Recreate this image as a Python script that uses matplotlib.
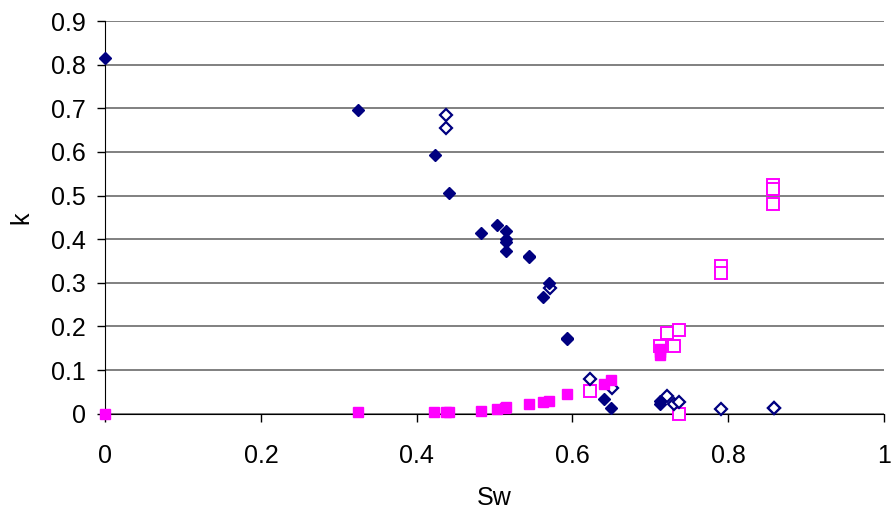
import numpy as np
import matplotlib
matplotlib.use("Agg")
import matplotlib.pyplot as plt

plt.rcParams['font.family'] = ['Liberation Sans', 'DejaVu Sans']

# filled navy diamonds
kro_sw = [0.0, 0.325, 0.423, 0.442, 0.482, 0.503, 0.515, 0.515, 0.515, 0.515,
          0.544, 0.544, 0.570, 0.562, 0.593, 0.593, 0.640, 0.649, 0.712, 0.712]
kro_k = [0.815, 0.695, 0.593, 0.505, 0.413, 0.432, 0.419, 0.400, 0.393, 0.373,
         0.362, 0.358, 0.299, 0.268, 0.170, 0.173, 0.033, 0.014, 0.030, 0.022]

# open navy diamonds
kro2_sw = [0.438, 0.438, 0.571, 0.622, 0.651, 0.721, 0.731, 0.737, 0.791, 0.859, 0.859]
kro2_k = [0.684, 0.655, 0.287, 0.080, 0.058, 0.041, 0.021, 0.026, 0.010, 0.012, 0.014]

# filled magenta squares
krw_sw = [0.0, 0.325, 0.422, 0.438, 0.442, 0.482, 0.503, 0.513, 0.515, 0.544,
          0.562, 0.570, 0.593, 0.640, 0.649, 0.712, 0.712, 0.712]
krw_k = [0.0, 0.003, 0.003, 0.003, 0.004, 0.007, 0.010, 0.013, 0.016, 0.022,
         0.026, 0.029, 0.045, 0.068, 0.077, 0.134, 0.141, 0.149]

# open magenta squares
krw2_sw = [0.622, 0.712, 0.721, 0.737, 0.731, 0.737, 0.791, 0.791, 0.858, 0.858, 0.858]
krw2_k = [0.052, 0.156, 0.184, 0.191, 0.154, 0.000, 0.338, 0.322, 0.525, 0.514, 0.480]

navy = '#000080'
magenta = '#FF00FF'

fig = plt.figure(figsize=(8.93, 5.19), dpi=100)
ax = fig.add_axes([0.118, 0.203, 0.8716, 0.7565])

# open markers first, filled ones on top
ax.plot(krw2_sw, krw2_k, 's', mfc='white', mec=magenta, ms=8, mew=1.4, clip_on=False, zorder=3)
ax.plot(kro2_sw, kro2_k, 'D', mfc='white', mec=navy, ms=6, mew=1.6, clip_on=False, zorder=3)
ax.plot(krw_sw, krw_k, 's', color=magenta, ms=7.8, mec=magenta, clip_on=False, zorder=4)
ax.plot(kro_sw, kro_k, 'D', color=navy, ms=6.3, clip_on=False, zorder=4)

ax.set_xlim(0, 1)
ax.set_ylim(0, 0.9)
ax.set_xticks(np.arange(0, 1.01, 0.2))
ax.set_xticklabels(['0', '0.2', '0.4', '0.6', '0.8', '1'])
ax.set_yticks(np.arange(0, 0.91, 0.1))
ax.set_yticklabels(['0'] + ['%.1f' % v for v in np.arange(0.1, 0.91, 0.1)])

ax.yaxis.grid(True, color='#808080', lw=1.4)
ax.set_axisbelow(True)
for s in ['top', 'right']:
    ax.spines[s].set_visible(False)
ax.spines['left'].set_color('black')
ax.spines['bottom'].set_color('black')
ax.tick_params(axis='both', direction='out', length=6, width=1, labelsize=18)
ax.tick_params(axis='y', pad=8)
ax.tick_params(axis='x', pad=16)

ax.set_xlabel('Sw', fontsize=18, labelpad=13)
ax.set_ylabel('k', fontsize=18, labelpad=13)

fig.savefig('out.png', dpi=100)
